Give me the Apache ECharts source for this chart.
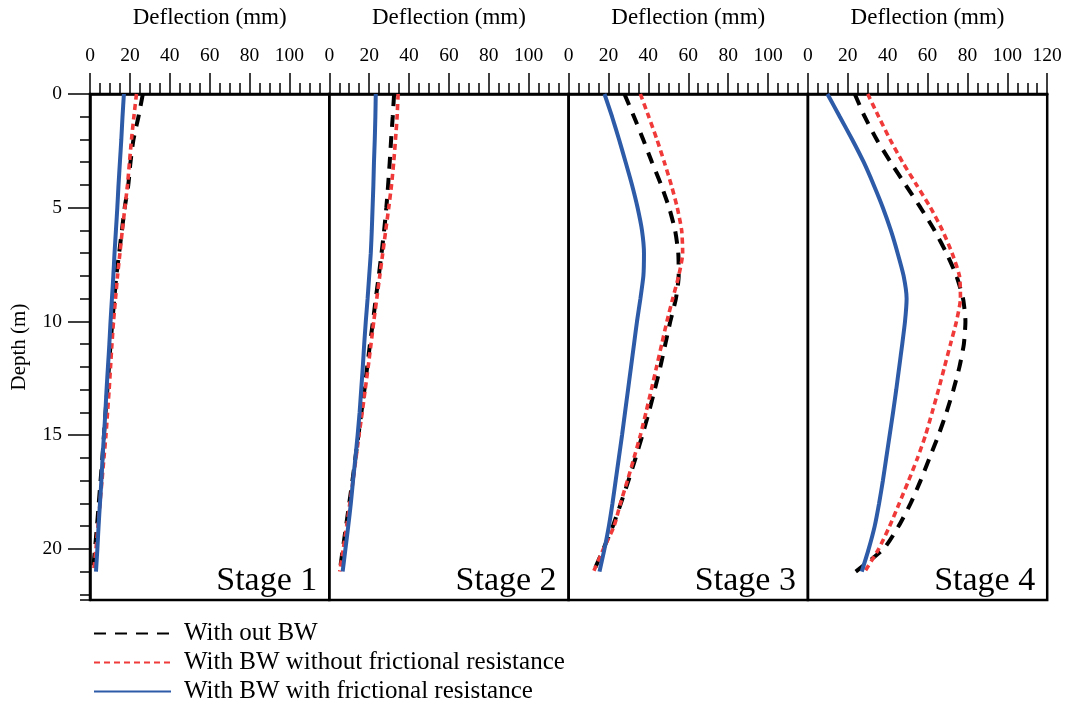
<!DOCTYPE html>
<html><head><meta charset="utf-8">
<script src="https://cdn.jsdelivr.net/npm/echarts@6/dist/echarts.min.js"></script>
<style>html,body{margin:0;padding:0;background:#fff}#c{width:1069px;height:704px}</style>
</head><body><div id="c"></div>
<script>
// ---- data (deflection in mm at each depth in m) ----
const depths = [0,1,2,3,4,5,6,7,8,9,10,11,12,13,14,15,16,17,18,19,20,21];
const stageLabels = ['Stage 1','Stage 2','Stage 3','Stage 4'];
const seriesNames = ['With out BW','With BW without frictional resistance','With BW with frictional resistance'];

const stage1_withoutBW = [26.5,24.3,21.8,20.3,19.2,17.4,16.0,14.6,13.2,12.2,11.2,10.3,9.5,8.7,7.8,7.0,6.2,5.3,4.4,3.5,2.5,1.5];
const stage1_noFriction = [23.3,22.0,20.8,19.8,18.8,17.5,16.2,15.0,13.8,12.8,11.8,11.0,10.3,9.6,8.8,8.0,7.0,6.0,5.0,4.0,3.0,1.8];
const stage1_friction = [17.0,16.3,15.7,15.0,14.3,13.7,13.0,12.3,11.7,11.0,10.3,9.7,9.0,8.3,7.7,7.0,6.3,5.7,5.0,4.3,3.7,3.0];

const stage2_withoutBW = [32.5,31.8,31.0,30.3,29.5,28.6,27.5,26.2,24.8,23.3,21.9,20.4,19.0,17.6,16.1,14.6,13.1,11.6,10.0,8.4,6.8,5.2];
const stage2_noFriction = [34.5,34.0,33.2,32.3,31.2,29.8,28.3,26.8,25.3,23.8,22.3,20.9,19.5,18.0,16.5,14.9,13.4,11.9,10.3,8.7,7.0,5.2];
const stage2_friction = [23.3,23.1,22.8,22.4,22.1,21.7,21.3,20.8,20.0,19.2,18.3,17.5,16.8,16.0,15.2,14.2,13.1,11.9,10.8,9.5,8.1,6.7];

const stage3_withoutBW = [28.0,32.8,37.4,41.8,46.4,50.4,53.4,55.0,55.2,53.8,51.0,48.5,46.0,43.2,40.2,37.0,33.6,30.0,26.2,22.2,17.5,12.5];
const stage3_noFriction = [36.0,40.2,44.3,48.0,51.5,54.5,56.7,57.2,55.2,52.2,49.3,46.7,44.1,41.5,38.8,36.0,32.8,29.5,26.0,22.8,17.5,12.5];
const stage3_friction = [18.0,21.8,25.3,28.6,31.8,34.6,36.8,37.8,37.5,36.0,34.3,32.8,31.3,29.8,28.3,26.8,25.2,23.6,22.0,20.2,18.0,15.5];

const stage4_withoutBW = [23.5,28.5,34.5,41.5,49.0,56.5,63.5,69.5,74.5,77.8,79.0,78.2,76.0,73.0,69.5,65.5,61.0,56.5,51.5,45.5,38.0,24.0];
const stage4_noFriction = [30.0,35.5,41.2,47.5,54.5,61.5,67.5,72.3,76.0,76.5,74.5,71.5,68.5,65.5,62.3,59.0,55.0,50.5,45.8,41.0,35.5,28.5];
const stage4_friction = [9.8,16.0,22.2,28.0,33.0,37.6,41.6,45.0,48.0,49.5,48.7,47.3,45.8,44.3,42.7,41.0,39.3,37.6,35.7,33.5,30.5,27.0];

const stageData = [
  [stage1_withoutBW, stage1_noFriction, stage1_friction],
  [stage2_withoutBW, stage2_noFriction, stage2_friction],
  [stage3_withoutBW, stage3_noFriction, stage3_friction],
  [stage4_withoutBW, stage4_noFriction, stage4_friction]
];

const xMin = 0, xMax = 120, xInterval = 20;
const yMin = 0, yMax = 22.25, yInterval = 5;

// ---- layout / style ----
const FONT = 'Liberation Serif';
const G_LEFT = 90, G_TOP = 94, G_W = 239.3, G_H = 506;
const lineStyles = [
  {color: '#000000', width: 4, type: [12, 9]},
  {color: '#f03a3a', width: 3.6, type: [6, 4]},
  {color: '#2e5ba8', width: 4, type: 'solid'}
];

const grids = [], xAxes = [], yAxes = [], series = [], graphics = [];
for (let i = 0; i < 4; i++) {
  grids.push({left: G_LEFT + i * G_W, top: G_TOP, width: G_W, height: G_H,
    outerBoundsMode: 'none', containLabel: false,
    show: true, borderColor: '#000', borderWidth: 2.5, backgroundColor: 'transparent'});
  xAxes.push({
    gridIndex: i, type: 'value', position: 'top', min: xMin, max: xMax, interval: xInterval,
    name: 'Deflection (mm)', nameLocation: 'middle', nameGap: 65,
    nameTextStyle: {fontFamily: FONT, fontSize: 23, color: '#000'},
    axisLine: {show: true, lineStyle: {color: '#000', width: 2.5}},
    axisTick: {show: true, length: 21, lineStyle: {color: '#000', width: 1.5}},
    minorTick: {show: true, splitNumber: 4, length: 11, lineStyle: {color: '#000', width: 1.5}},
    splitLine: {show: false},
    axisLabel: {show: true, margin: 28, fontFamily: FONT, fontSize: 19.5, color: '#000', showMaxLabel: i === 3}
  });
  yAxes.push({
    gridIndex: i, type: 'value', position: 'left', inverse: true, min: yMin, max: yMax, interval: yInterval,
    show: i === 0,
    name: i === 0 ? 'Depth (m)' : '', nameLocation: 'middle', nameGap: 60, nameRotate: 90,
    nameTextStyle: {fontFamily: FONT, fontSize: 21, color: '#000'},
    axisLine: {show: true, lineStyle: {color: '#000', width: 2.5}},
    axisTick: {show: true, length: 22, lineStyle: {color: '#000', width: 1.5}},
    splitLine: {show: false},
    axisLabel: {margin: 28, fontFamily: FONT, fontSize: 19.5, color: '#000', showMaxLabel: false}
  });
  for (let k = 0; k < 3; k++) {
    series.push({
      name: seriesNames[k], type: 'line', xAxisIndex: i, yAxisIndex: i,
      data: stageData[i][k].map((v, j) => [v, depths[j]]),
      showSymbol: false, symbol: 'none', smooth: 0.2,
      lineStyle: Object.assign({}, lineStyles[k]),
      itemStyle: {color: lineStyles[k].color},
      z: 2 + k, animation: false
    });
  }
  graphics.push({
    type: 'text', right: 1069 - (G_LEFT + (i + 1) * G_W - 12), bottom: 704 - 598,
    style: {text: stageLabels[i], font: '34px "Liberation Serif"', fill: '#000'}
  });
}
// minor ticks for depth axis (every 1 m)
yAxes.push({
  gridIndex: 0, type: 'value', position: 'left', offset: 0, inverse: true, min: yMin, max: yMax, interval: 1,
  axisLine: {show: false}, axisLabel: {show: false}, splitLine: {show: false},
  axisTick: {show: true, length: 10, lineStyle: {color: '#000', width: 1.5}}
});

const chart = echarts.init(document.getElementById('c'), null, {renderer: 'canvas'});
chart.setOption({
  animation: false,
  backgroundColor: '#fff',
  grid: grids, xAxis: xAxes, yAxis: yAxes, series: series,
  graphic: graphics,
  legend: {
    data: seriesNames, orient: 'vertical', left: 88, top: 616, height: 88,
    itemWidth: 77, itemHeight: 14, itemGap: 4,
    itemStyle: {color: 'rgba(0,0,0,0)', borderWidth: 0, opacity: 0},
    textStyle: {fontFamily: FONT, fontSize: 25, color: '#000', lineHeight: 24.5, padding: [0, 0, 0, 8]}
  }
});
</script></body></html>
